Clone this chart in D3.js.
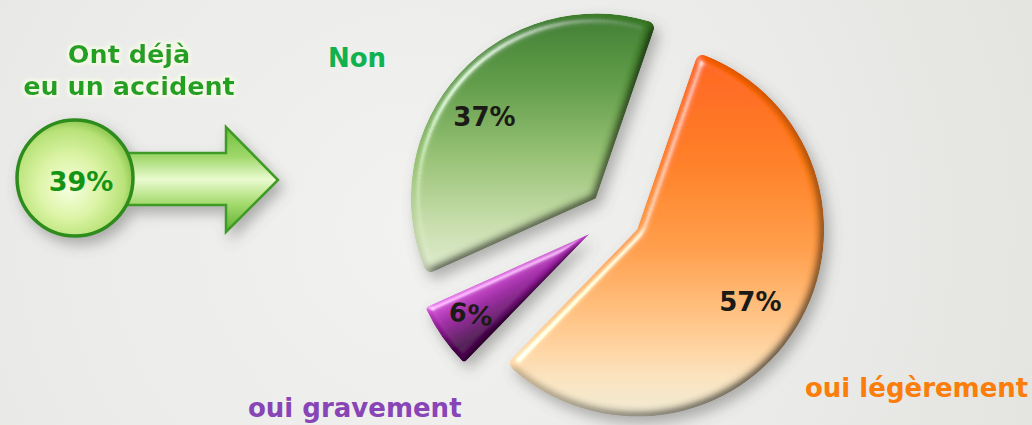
<!DOCTYPE html>
<html>
<head>
<meta charset="utf-8">
<script src="https://cdn.jsdelivr.net/npm/d3@7"></script>
<style>
  html, body { margin: 0; padding: 0; background: #e8e9e6; overflow: hidden; }
  svg { display: block; }
</style>
</head>
<body>
<svg id="chart" width="1032" height="425"></svg>
<script>
// ---------- data ----------
const categories = ["oui légèrement", "oui gravement", "Non"];
const values = [57, 6, 37];
const valueLabels = ["57%", "6%", "37%"];
const headline = ["Ont déjà", "eu un accident"];
const headlineValue = ["39%"];

// ---------- setup ----------
const W = 1032, H = 425;
const svg = d3.select("#chart");
const defs = svg.append("defs");

// background
const bg = defs.append("radialGradient").attr("id", "bg")
  .attr("gradientUnits", "userSpaceOnUse").attr("cx", 420).attr("cy", 230).attr("r", 700);
bg.append("stop").attr("offset", 0).attr("stop-color", "#f2f2f0");
bg.append("stop").attr("offset", 0.6).attr("stop-color", "#eaebe8");
bg.append("stop").attr("offset", 1).attr("stop-color", "#e2e3df");
svg.append("rect").attr("width", W).attr("height", H).attr("fill", "url(#bg)");

// filters
const shadow = defs.append("filter").attr("id", "shadow")
  .attr("x", "-20%").attr("y", "-20%").attr("width", "140%").attr("height", "140%");
shadow.append("feDropShadow").attr("dx", 5).attr("dy", 7).attr("stdDeviation", 7)
  .attr("flood-color", "#5a5a5a").attr("flood-opacity", 0.45);

function makeBevel(id, blur, scale) {
  const f = defs.append("filter").attr("id", id)
    .attr("x", "-10%").attr("y", "-10%").attr("width", "120%").attr("height", "120%");
  f.append("feGaussianBlur").attr("in", "SourceAlpha").attr("stdDeviation", blur).attr("result", "b");
  const dl = f.append("feDiffuseLighting").attr("in", "b").attr("surfaceScale", scale)
    .attr("diffuseConstant", 1.16).attr("lighting-color", "#ffffff").attr("result", "d");
  dl.append("feDistantLight").attr("azimuth", 225).attr("elevation", 60);
  f.append("feComposite").attr("in", "SourceGraphic").attr("in2", "d")
    .attr("operator", "arithmetic").attr("k1", 1).attr("k2", 0).attr("k3", 0).attr("k4", 0).attr("result", "shaded");
  const sl = f.append("feSpecularLighting").attr("in", "b").attr("surfaceScale", scale)
    .attr("specularConstant", 0.6).attr("specularExponent", 30).attr("lighting-color", "#ffffff").attr("result", "s");
  sl.append("feDistantLight").attr("azimuth", 225).attr("elevation", 35);
  f.append("feComposite").attr("in", "s").attr("in2", "SourceAlpha").attr("operator", "in").attr("result", "s2");
  f.append("feComposite").attr("in", "shaded").attr("in2", "s2")
    .attr("operator", "arithmetic").attr("k1", 0).attr("k2", 1).attr("k3", 1).attr("k4", 0).attr("result", "lit");
  f.append("feComposite").attr("in", "lit").attr("in2", "SourceAlpha").attr("operator", "in");
}
makeBevel("bevel", 5, 7);
makeBevel("bevelSmall", 3, 4);

const glow = defs.append("filter").attr("id", "glow")
  .attr("x", "-10%").attr("y", "-30%").attr("width", "120%").attr("height", "160%");
glow.append("feMorphology").attr("in", "SourceAlpha").attr("operator", "dilate").attr("radius", 2).attr("result", "dil");
glow.append("feGaussianBlur").attr("in", "dil").attr("stdDeviation", 1.5).attr("result", "bl");
glow.append("feFlood").attr("flood-color", "#f4fbe6").attr("result", "fc");
glow.append("feComposite").attr("in", "fc").attr("in2", "bl").attr("operator", "in").attr("result", "halo");
const gm = glow.append("feMerge");
gm.append("feMergeNode").attr("in", "halo");
gm.append("feMergeNode").attr("in", "SourceGraphic");

// ---------- pie ----------
const cx = 615, cy = 216;
const startDeg = 19;
const explode = [26, 31, 26];
const radii = [187, 180, 185];
const labelNudge = [[-6, -1], [-4, 0], [-8, 13]];
const pie = d3.pie().sort(null).value(d => d)
  .startAngle(startDeg * Math.PI / 180).endAngle(startDeg * Math.PI / 180 + 2 * Math.PI);
const arcs = pie(values);
const labelArc = d3.arc().innerRadius(140).outerRadius(140);

function offsetOf(d, i) {
  const a = (d.startAngle + d.endAngle) / 2;
  return [cx + explode[i] * Math.sin(a), cy - explode[i] * Math.cos(a)];
}

// gradient specs in page coordinates: [x1,y1,x2,y2, stops]
const gradSpecs = [
  [0, 45, 0, 415, [[0, "#ff5e00"], [0.3, "#ff7a12"], [0.55, "#ff9c45"], [0.75, "#ffc486"], [0.9, "#f9e2bd"], [1, "#efe9d2"]]],
  [478, 268, 506, 322, [[0, "#f2a8f2"], [0.22, "#d552d8"], [0.55, "#9c1fa2"], [1, "#4e0652"]]],
  [0, 20, 0, 275, [[0, "#3b7d28"], [0.25, "#5c9a42"], [0.55, "#97c174"], [0.8, "#c6dcaa"], [1, "#dfeacf"]]]
];

const pieG = svg.append("g").attr("filter", "url(#shadow)");
arcs.forEach((d, i) => {
  const [ox, oy] = offsetOf(d, i);
  const [x1, y1, x2, y2, stops] = gradSpecs[i];
  const g = defs.append("linearGradient").attr("id", "slice" + i)
    .attr("gradientUnits", "userSpaceOnUse")
    .attr("x1", x1 - ox).attr("y1", y1 - oy).attr("x2", x2 - ox).attr("y2", y2 - oy);
  stops.forEach(([o, c]) => g.append("stop").attr("offset", o).attr("stop-color", c));
  const arc = d3.arc().innerRadius(0).outerRadius(radii[i]).cornerRadius(i === 1 ? 3 : 7);
  pieG.append("path")
    .attr("transform", `translate(${ox},${oy})`)
    .attr("d", arc(d))
    .attr("fill", `url(#slice${i})`)
    .attr("filter", i === 1 ? "url(#bevelSmall)" : "url(#bevel)");
});

// value labels inside slices
arcs.forEach((d, i) => {
  const [ox, oy] = offsetOf(d, i);
  const [lx, ly] = labelArc.centroid(d);
  const x = ox + lx + labelNudge[i][0], y = oy + ly + labelNudge[i][1];
  svg.append("text")
    .attr("x", x).attr("y", y)
    .attr("transform", i === 1 ? `rotate(8,${x},${y})` : null)
    .attr("text-anchor", "middle").attr("dominant-baseline", "central")
    .attr("font-family", "DejaVu Sans, Verdana, sans-serif")
    .attr("font-weight", "bold").attr("font-size", 26)
    .attr("fill", "#1c1a16")
    .text(valueLabels[i]);
});

// category labels
const catColors = ["#fb7d0c", "#8745b6", "#10b150"];
const catPos = [[805, 397, "start"], [248, 417, "start"], [328, 67, "start"]];
categories.forEach((c, i) => {
  svg.append("text")
    .attr("x", catPos[i][0]).attr("y", catPos[i][1]).attr("text-anchor", catPos[i][2])
    .attr("font-family", "DejaVu Sans, Verdana, sans-serif")
    .attr("font-weight", "bold").attr("font-size", 26)
    .attr("fill", catColors[i])
    .text(c);
});

// ---------- left indicator: arrow + circle ----------
const arrowG = defs.append("linearGradient").attr("id", "gArrow")
  .attr("gradientUnits", "userSpaceOnUse").attr("x1", 0).attr("x2", 0).attr("y1", 127).attr("y2", 232);
[[0, "#6fbf3e"], [0.28, "#9fd86a"], [0.5, "#eafbd0"], [0.72, "#a6dc70"], [1, "#5eb032"]]
  .forEach(([o, c]) => arrowG.append("stop").attr("offset", o).attr("stop-color", c));
const circG = defs.append("radialGradient").attr("id", "gCircle")
  .attr("cx", "0.45").attr("cy", "0.55").attr("r", "0.6").attr("fx", "0.45").attr("fy", "0.6");
[[0, "#f6ffe0"], [0.45, "#dcf4a6"], [0.8, "#b8e278"], [1, "#78bb3e"]]
  .forEach(([o, c]) => circG.append("stop").attr("offset", o).attr("stop-color", c));

const arrowPath = d3.path();
arrowPath.moveTo(110, 153); arrowPath.lineTo(226, 153); arrowPath.lineTo(226, 127);
arrowPath.lineTo(278, 180); arrowPath.lineTo(226, 232); arrowPath.lineTo(226, 205);
arrowPath.lineTo(110, 205); arrowPath.closePath();
const leftG = svg.append("g").attr("filter", "url(#shadow)");
leftG.append("path").attr("d", arrowPath.toString())
  .attr("fill", "url(#gArrow)").attr("stroke", "#3f9a26").attr("stroke-width", 2.5)
  .attr("stroke-linejoin", "miter");
leftG.append("circle").attr("cx", 75).attr("cy", 178).attr("r", 58)
  .attr("fill", "url(#gCircle)").attr("stroke", "#2f8c1c").attr("stroke-width", 3.5);

svg.append("text").attr("x", 81).attr("y", 181)
  .attr("text-anchor", "middle").attr("dominant-baseline", "central")
  .attr("font-family", "DejaVu Sans, Verdana, sans-serif").attr("font-weight", "bold")
  .attr("font-size", 27).attr("fill", "#149414")
  .text(headlineValue[0]);

const title = svg.append("text")
  .attr("text-anchor", "middle")
  .attr("font-family", "DejaVu Sans, Verdana, sans-serif").attr("font-weight", "bold")
  .attr("font-size", 25.5).attr("fill", "#23a023").attr("filter", "url(#glow)");
headline.forEach((t, i) => {
  title.append("tspan").attr("x", 129).attr("y", 63 + i * 32).text(t);
});
</script>
</body>
</html>
